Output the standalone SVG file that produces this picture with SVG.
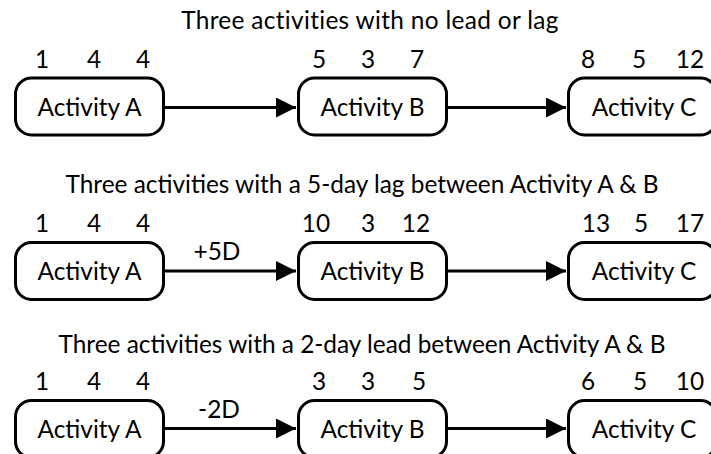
<svg xmlns="http://www.w3.org/2000/svg" width="711" height="454" viewBox="0 0 711 454">
<defs>
<style>
text{font-family:Lato,"Open Sans","Liberation Sans",sans-serif;fill:#000;font-size:24.4px;text-anchor:middle}
.box{fill:#fff;stroke:#000;stroke-width:3}
.c{stroke:#000;stroke-width:3;fill:none}
</style>
<marker id="ah" viewBox="0 0 10 10" refX="10" refY="5" markerUnits="userSpaceOnUse" markerWidth="27" markerHeight="20" orient="auto">
<path d="M0,0 L10,5 L0,10 Z" fill="#000"/>
</marker>
</defs>
<rect width="711" height="454" fill="#fff"/>
<g id="titles">
<text x="370" y="29" letter-spacing="0.33">Three activities with no lead or lag</text>
<text x="362" y="193">Three activities with a 5-day lag between Activity A &amp; B</text>
<text x="362" y="353">Three activities with a 2-day lead between Activity A &amp; B</text>
</g>
<g id="connectors">
<line class="c" x1="165" y1="107.5" x2="296" y2="107.5" marker-end="url(#ah)"/>
<line class="c" x1="448" y1="107.5" x2="566" y2="107.5" marker-end="url(#ah)"/>
<line class="c" x1="165" y1="271" x2="296" y2="271" marker-end="url(#ah)"/>
<line class="c" x1="448" y1="271" x2="566" y2="271" marker-end="url(#ah)"/>
<line class="c" x1="165" y1="428.5" x2="296" y2="428.5" marker-end="url(#ah)"/>
<line class="c" x1="448" y1="428.5" x2="566" y2="428.5" marker-end="url(#ah)"/>
<text x="217" y="260">+5D</text>
<text x="219" y="418">-2D</text>
</g>
<g id="r1a"><rect class="box" x="15.5" y="78" width="148" height="57" rx="16"/><text x="89.5" y="116">Activity A</text>
<text x="42" y="68">1</text><text x="94" y="68">4</text><text x="143" y="68">4</text></g>
<g id="r1b"><rect class="box" x="298.5" y="78" width="148" height="57" rx="16"/><text x="372.5" y="116">Activity B</text>
<text x="319" y="68">5</text><text x="368" y="68">3</text><text x="417" y="68">7</text></g>
<g id="r1c"><rect class="box" x="568.5" y="78" width="148" height="57" rx="16"/><text x="644" y="116">Activity C</text>
<text x="588" y="68">8</text><text x="639" y="68">5</text><text x="690" y="68">12</text></g>
<g id="r2a"><rect class="box" x="15.5" y="242.5" width="148" height="57" rx="16"/><text x="89.5" y="280">Activity A</text>
<text x="42" y="232">1</text><text x="94" y="232">4</text><text x="143" y="232">4</text></g>
<g id="r2b"><rect class="box" x="298.5" y="242.5" width="148" height="57" rx="16"/><text x="372.5" y="280">Activity B</text>
<text x="316" y="232">10</text><text x="368" y="232">3</text><text x="416" y="232">12</text></g>
<g id="r2c"><rect class="box" x="568.5" y="242.5" width="148" height="57" rx="16"/><text x="644" y="280">Activity C</text>
<text x="596" y="232">13</text><text x="641" y="232">5</text><text x="690" y="232">17</text></g>
<g id="r3a"><rect class="box" x="15.5" y="400.5" width="148" height="57" rx="16"/><text x="89.5" y="438">Activity A</text>
<text x="42" y="390">1</text><text x="94" y="390">4</text><text x="143" y="390">4</text></g>
<g id="r3b"><rect class="box" x="298.5" y="400.5" width="148" height="57" rx="16"/><text x="372.5" y="438">Activity B</text>
<text x="319" y="390">3</text><text x="368" y="390">3</text><text x="419" y="390">5</text></g>
<g id="r3c"><rect class="box" x="568.5" y="400.5" width="148" height="57" rx="16"/><text x="644" y="438">Activity C</text>
<text x="588" y="390">6</text><text x="640" y="390">5</text><text x="690" y="390">10</text></g>
</svg>
